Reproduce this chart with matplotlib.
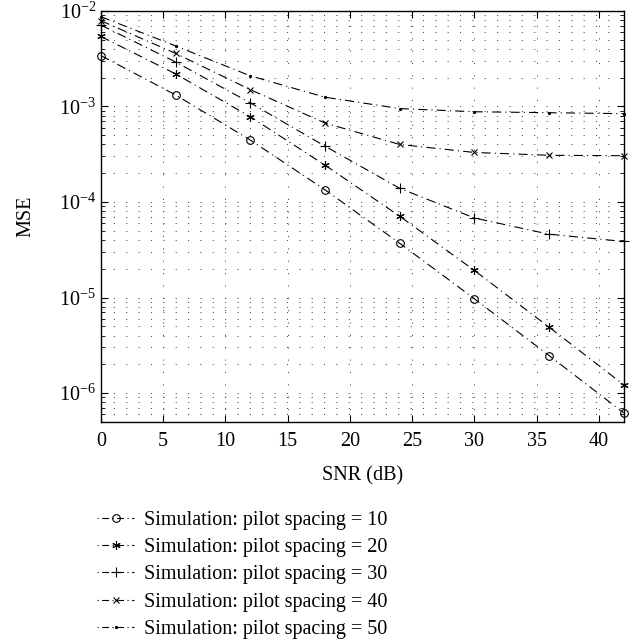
import matplotlib
matplotlib.use("Agg")
import matplotlib.pyplot as plt
from matplotlib.ticker import LogLocator, NullFormatter

# MSE vs SNR for different pilot spacings
snr = [0, 6, 12, 18, 24, 30, 36, 42]
mse_10 = [3.4e-3, 1.32e-3, 4.45e-4, 1.34e-4, 3.7e-5, 9.7e-6, 2.47e-6, 6.2e-7]
mse_20 = [5.4e-3, 2.19e-3, 7.8e-4, 2.43e-4, 7.1e-5, 1.92e-5, 4.9e-6, 1.22e-6]
mse_30 = [7.1e-3, 2.92e-3, 1.09e-3, 3.84e-4, 1.39e-4, 6.8e-5, 4.6e-5, 3.86e-5]
mse_40 = [7.9e-3, 3.59e-3, 1.5e-3, 6.7e-4, 4.0e-4, 3.3e-4, 3.08e-4, 3.05e-4]
mse_50 = [8.7e-3, 4.3e-3, 2.09e-3, 1.25e-3, 9.5e-4, 8.8e-4, 8.6e-4, 8.4e-4]

spacings = [10, 20, 30, 40, 50]
series = [mse_10, mse_20, mse_30, mse_40, mse_50]
markers = ['o', (6, 2, 0), '+', 'x', '.']
msizes = [5.5, 6, 7, 5, 3]

plt.rcParams['font.family'] = ['Liberation Serif', 'DejaVu Serif']
plt.rcParams['mathtext.fontset'] = 'stix'
plt.rcParams['lines.scale_dashes'] = False

fs = 14.5
fig = plt.figure(figsize=(6.43, 6.42), dpi=100)
ax = fig.add_axes([0.157, 0.343, 0.813, 0.640])

for sp, y, m, ms in zip(spacings, series, markers, msizes):
    ax.plot(snr, y, color='black', lw=0.8, dashes=(6.5, 3, 0.8, 3),
            marker=m, markersize=ms, markerfacecolor='none' if m == 'o' else 'black',
            markeredgecolor='black', markeredgewidth=0.8,
            label='Simulation: pilot spacing = %d' % sp, clip_on=False)

ax.set_yscale('log')
ax.set_xlim(0, 42)
ax.set_ylim(5e-7, 1e-2)
ax.set_xticks([0, 5, 10, 15, 20, 25, 30, 35, 40])
ax.yaxis.set_major_locator(LogLocator(base=10, numticks=10))
ax.yaxis.set_minor_locator(LogLocator(base=10, subs=range(2, 10), numticks=50))
ax.yaxis.set_minor_formatter(NullFormatter())

ax.grid(True, which='major', axis='x', color='#333333', lw=0.6, dashes=(0.8, 8.1))
ax.grid(True, which='both', axis='y', color='#333333', lw=0.6, dashes=(0.8, 8.1))

ax.tick_params(which='both', direction='in', top=True, right=True, labelsize=fs)
ax.tick_params(which='major', length=5, width=0.8)
ax.tick_params(which='minor', length=3, width=0.6)
ax.tick_params(axis='x', pad=7)
for s in ax.spines.values():
    s.set_linewidth(1.0)

ax.set_xlabel('SNR (dB)', fontsize=fs, labelpad=11)
ax.set_ylabel('MSE', fontsize=fs, labelpad=17)

h, l = ax.get_legend_handles_labels()
leg = fig.legend(h, l, loc='upper left', bbox_to_anchor=(0.151, 0.204), frameon=False,
                 fontsize=fs, handlelength=1.85, handletextpad=0.5, labelspacing=0.4,
                 borderpad=0, borderaxespad=0, numpoints=1)
for ln in leg.get_lines():
    ln.set_linestyle((0, (0.8, 2.5, 5, 2.5)))

fig.savefig('out.png', dpi=100)
